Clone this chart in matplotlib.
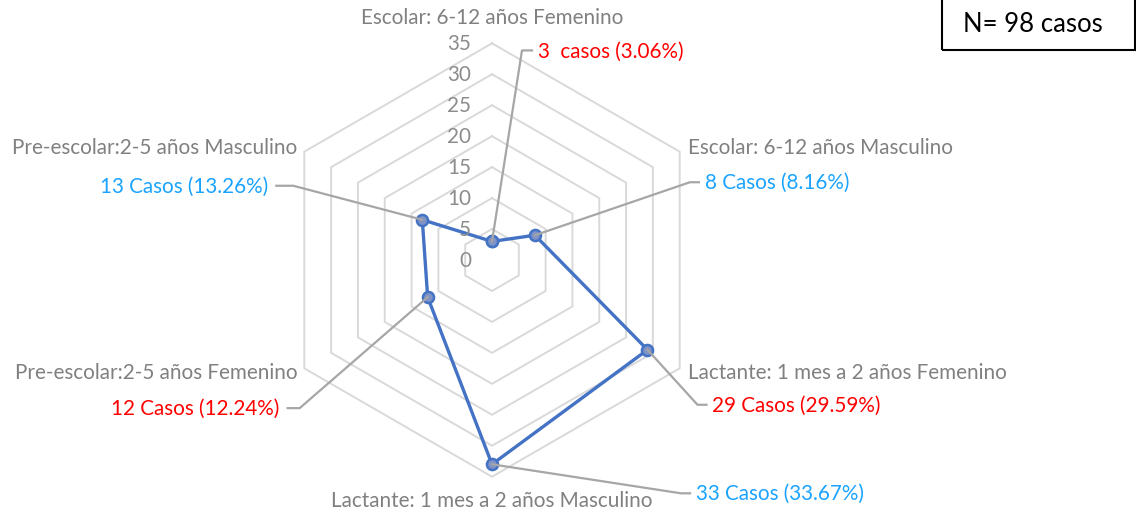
import numpy as np
import matplotlib
matplotlib.use("Agg")
import matplotlib.pyplot as plt
from matplotlib.lines import Line2D
from matplotlib.patches import Rectangle

# ---------------- data ----------------
categories = [
    "Escolar: 6-12 años Femenino",
    "Escolar: 6-12 años Masculino",
    "Lactante: 1 mes a 2 años Femenino",
    "Lactante: 1 mes a 2 años Masculino",
    "Pre-escolar:2-5 años Femenino",
    "Pre-escolar:2-5 años Masculino",
]
values = [3, 8, 29, 33, 12, 13]
value_labels = [
    "3  casos (3.06%)",
    "8 Casos (8.16%)",
    "29 Casos (29.59%)",
    "33 Casos (33.67%)",
    "12 Casos (12.24%)",
    "13 Casos (13.26%)",
]
label_colors = ["#ff0000", "#1aa3ff", "#ff0000", "#1aa3ff", "#ff0000", "#1aa3ff"]
ticks = [0, 5, 10, 15, 20, 25, 30, 35]
total_text = "N= 98 casos"

# ---------------- style / layout ----------------
FONT = "Lato"
FS = 14.9
W, H = 1136, 513
fig = plt.figure(figsize=(W / 100, H / 100), dpi=100)
fig.patch.set_facecolor("white")

cx, cy, R = 492, 260, 216.7
ax = fig.add_axes([(cx - R) / W, (H - cy - R) / H, 2 * R / W, 2 * R / H],
                  projection="polar")
ax.set_theta_offset(np.pi / 2)
ax.set_theta_direction(-1)
ax.set_ylim(0, ticks[-1])
ax.grid(False)
ax.set_xticks([])
ax.set_yticks([])
ax.spines["polar"].set_visible(False)
ax.patch.set_alpha(0)

n = len(categories)
angles = np.arange(n) * 2 * np.pi / n
ang_c = np.append(angles, angles[0])

# hexagonal grid rings
for t in ticks[1:]:
    ax.plot(ang_c, [t] * (n + 1), color="#d9d9d9", lw=1.4, clip_on=False, zorder=1)

fig.canvas.draw()
inv = fig.transFigure.inverted()


def disp(theta, r):
    x, y = ax.transData.transform((theta, r))
    return x, H - y  # pixel coords, y downwards


def ftext(x, y, s, **kw):
    fx, fy = inv.transform((x, H - y))
    fig.text(fx, fy, s, family=FONT, **kw)


def fline(xs, ys, **kw):
    pts = [inv.transform((x, H - y)) for x, y in zip(xs, ys)]
    fig.add_artist(Line2D([p[0] for p in pts], [p[1] for p in pts],
                          transform=fig.transFigure, **kw))


# tick labels (left of the top axis)
for t in ticks:
    x, y = disp(0, t)
    ftext(x - 21, y + 1, str(t), ha="right", va="center", fontsize=FS, color="#8c8c8c")

# leader lines + value labels (elbow offsets in pixels)
leader = [(30, -191, 10), (155, -53, 9), (50, 55, 9), (189, 29, 9), (-128, 111, -12), (-129, -34, -17)]
for i, (v, lab, col) in enumerate(zip(values, value_labels, label_colors)):
    px, py = disp(angles[i], v)
    dx, dy, s = leader[i]
    ex, ey = px + dx, py + dy
    fline([px, ex, ex + s], [py, ey, ey], color="#a6a6a6", lw=1.6, zorder=2)
    if s > 0:
        ftext(ex + s + 6, ey + 1, lab, ha="left", va="center", fontsize=FS, color=col)
    else:
        ftext(ex + s - 8, ey + 1, lab, ha="right", va="center", fontsize=FS, color=col)

# data polygon
ax.plot(ang_c, values + [values[0]], color="#4472c4", lw=2.4, marker="o", ms=8,
        mfc="#7f93c6", mec="#4472c4", mew=1.8, clip_on=False, zorder=5)

# category labels
cat_off = [(0, -25, "center"), (8, -4, "left"), (8, 5, "left"),
           (0, 24, "center"), (-7, 5, "right"), (-7, -4, "right")]
for i, c in enumerate(categories):
    x, y = disp(angles[i], ticks[-1])
    dx, dy, ha = cat_off[i]
    ftext(x + dx, y + dy, c, ha=ha, va="center", fontsize=FS, color="#808080")

# N box
bx0, by1 = 942, 50
fig.add_artist(Rectangle(((bx0) / W, (H - by1) / H), (1135 - bx0) / W, (by1 + 5) / H,
                         transform=fig.transFigure, fill=False, ec="black", lw=1.5,
                         clip_on=False))
ftext(1033, 24, total_text, ha="center", va="center", fontsize=18.5, color="black")

fig.savefig("out.png", dpi=100)
